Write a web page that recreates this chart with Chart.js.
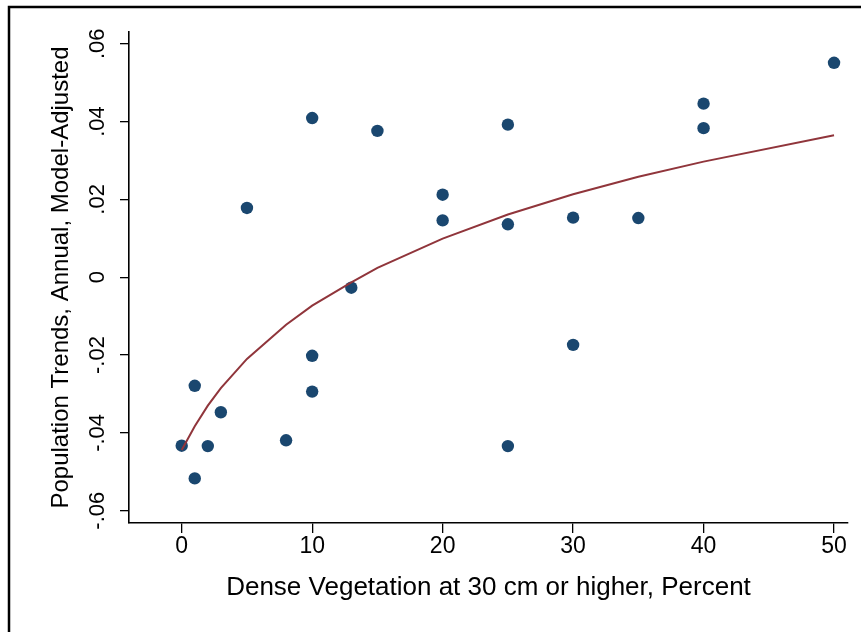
<!DOCTYPE html>
<html>
<head>
<meta charset="utf-8">
<script src="https://cdn.jsdelivr.net/npm/chart.js@4.4.1/dist/chart.umd.min.js"></script>
<style>
  html, body { margin: 0; padding: 0; background: #fff; }
  canvas { display: block; }
</style>
</head>
<body>
<canvas id="chart" width="861" height="632"></canvas>
<script>
// ── Data ──────────────────────────────────────────────────────────────────────
const vegX = [0, 1, 1, 2, 3, 5, 8, 10, 10, 10, 13, 15, 20, 20, 25, 25, 25, 30, 30, 35, 40, 40, 50]
const trendY = [-0.0433, -0.0279, -0.0517, -0.0434, -0.0347, 0.0178, -0.0419, 0.0409, -0.0202, -0.0294,
  -0.0027, 0.0376, 0.0212, 0.0146, 0.0392, 0.0136, -0.0434, 0.0153, -0.0174, 0.0152, 0.0446, 0.0383, 0.0551]

const fitX = [0, 1, 2, 3, 5, 8, 10, 13, 15, 20, 25, 30, 35, 40, 50]
const fitY = [-0.0444, -0.0383, -0.0330, -0.0285, -0.0210, -0.0122, -0.0073, -0.0013, 0.0024, 0.0099,
  0.0161, 0.0213, 0.0258, 0.0297, 0.0365]

const xTicks = [0, 10, 20, 30, 40, 50]
const yTicks = [0.06, 0.04, 0.02, 0, -0.02, -0.04, -0.06]
const yTickLabels = ['.06', '.04', '.02', '0', '-.02', '-.04', '-.06']

const X_TITLE = 'Dense Vegetation at 30 cm or higher, Percent'
const Y_TITLE = 'Population Trends, Annual, Model-Adjusted'

const FONT = "'Liberation Sans', Arial, Helvetica, sans-serif"
const NAVY = '#1a476f'
const MAROON = '#90353b'

// ── Plugins ───────────────────────────────────────────────────────────────────

// outer frame (only top/left edges fall inside the picture)
const framePlugin = {
  id: 'frame',
  beforeDraw(chart) {
    const ctx = chart.ctx
    ctx.save()
    ctx.fillStyle = '#fff'
    ctx.fillRect(0, 0, chart.width, chart.height)
    ctx.strokeStyle = '#000'
    ctx.lineWidth = 2.5
    ctx.strokeRect(9, 7, chart.width + 20, chart.height + 20)
    ctx.restore()
  }
}

// rotated y tick labels, Stata style
const yLabelPlugin = {
  id: 'yLabels',
  afterDraw(chart) {
    const ctx = chart.ctx
    const y = chart.scales.y
    ctx.save()
    ctx.fillStyle = '#000'
    ctx.font = `22px ${FONT}`
    ctx.textAlign = 'center'
    ctx.textBaseline = 'alphabetic'
    yTicks.forEach((v, i) => {
      const py = y.getPixelForValue(v)
      ctx.save()
      ctx.translate(104, py)
      ctx.rotate(-Math.PI / 2)
      ctx.fillText(yTickLabels[i], 0, 0)
      ctx.restore()
    })
    ctx.restore()
  }
}

// ── Chart ─────────────────────────────────────────────────────────────────────

new Chart(document.getElementById('chart'), {
  type: 'scatter',
  data: {
    datasets: [
      {
        type: 'line',
        label: 'Fitted',
        data: fitX.map((x, i) => ({ x, y: fitY[i] })),
        borderColor: MAROON,
        borderWidth: 2,
        pointRadius: 0,
        tension: 0,
        fill: false
      },
      {
        label: 'Trend',
        data: vegX.map((x, i) => ({ x, y: trendY[i] })),
        backgroundColor: NAVY,
        borderColor: NAVY,
        borderWidth: 0,
        pointRadius: 6.2
      }
    ]
  },
  options: {
    responsive: false,
    animation: false,
    events: [],
    layout: { padding: { top: 32, right: 13, left: 0, bottom: 0 } },
    plugins: {
      legend: { display: false },
      tooltip: { enabled: false }
    },
    scales: {
      x: {
        type: 'linear',
        min: -4.04,
        max: 51.07,
        afterBuildTicks: s => { s.ticks = xTicks.map(value => ({ value })) },
        afterFit: s => { s.height = 109 },
        border: { display: true, color: '#000', width: 1.6 },
        grid: { drawOnChartArea: false, drawTicks: true, tickLength: 10, color: '#000', lineWidth: 1.3 },
        ticks: {
          color: '#000',
          font: { family: FONT, size: 23 },
          padding: 0,
          maxRotation: 0,
          callback: v => String(v)
        },
        title: {
          display: true,
          text: X_TITLE,
          color: '#000',
          font: { family: FONT, size: 26 },
          padding: { top: 0, bottom: 29 }
        }
      },
      y: {
        type: 'linear',
        min: -0.06316,
        max: 0.06301,
        afterBuildTicks: s => { s.ticks = yTicks.map(value => ({ value })) },
        afterFit: s => { s.width = 129 },
        border: { display: true, color: '#000', width: 1.6 },
        grid: { drawOnChartArea: false, drawTicks: true, tickLength: 9, color: '#000', lineWidth: 1.3 },
        ticks: { display: false },
        title: {
          display: true,
          text: Y_TITLE,
          color: '#000',
          font: { family: FONT, size: 24 },
          padding: { top: 47, bottom: 0 }
        }
      }
    }
  },
  plugins: [framePlugin, yLabelPlugin]
})
</script>
</body>
</html>
